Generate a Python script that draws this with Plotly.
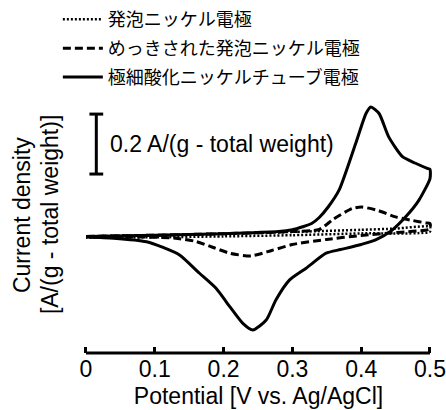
import plotly.graph_objects as go

# ---- data ----
# foam nickel electrode (dotted): anodic then cathodic sweep
foam_x = [0.0, 0.1, 0.2, 0.3, 0.4, 0.45, 0.5, 0.5, 0.4, 0.3, 0.2, 0.1, 0.0]
foam_y = [0.002, 0.006, 0.011, 0.017, 0.024, 0.028, 0.034,
          0.018, 0.012, 0.006, 0.002, -0.001, -0.002]

# plated foam nickel electrode (dashed)
plated_x = [0.0, 0.1, 0.2, 0.3, 0.339, 0.36, 0.387, 0.401, 0.425, 0.45, 0.475, 0.494, 0.5,
            0.5, 0.45, 0.4, 0.35, 0.3, 0.27, 0.24, 0.21, 0.185, 0.16, 0.13, 0.08, 0.0]
plated_y = [0.002, 0.006, 0.011, 0.018, 0.025, 0.06, 0.095, 0.1, 0.088, 0.067, 0.055, 0.047, 0.045,
            0.027, 0.015, 0.005, -0.008, -0.025, -0.045, -0.063, -0.055, -0.035, -0.015, -0.004, 0.0, 0.0]

# ultrafine nickel oxide tube electrode (solid)
tube_x = [0.0, 0.1, 0.2, 0.28, 0.3, 0.315, 0.328, 0.339, 0.352, 0.368, 0.392, 0.407, 0.414,
          0.426, 0.44, 0.46, 0.479, 0.496, 0.5,
          0.5, 0.484, 0.465, 0.445, 0.421, 0.4, 0.37, 0.349, 0.32, 0.296, 0.276, 0.262,
          0.2425, 0.228, 0.209, 0.189, 0.165, 0.136, 0.112, 0.088, 0.04, 0.0]
tube_y = [0.002, 0.006, 0.011, 0.018, 0.024, 0.034, 0.045, 0.065, 0.1, 0.157, 0.312, 0.412, 0.434,
          0.412, 0.334, 0.268, 0.246, 0.229, 0.226,
          0.195, 0.123, 0.068, 0.023, -0.01, -0.025, -0.042, -0.054, -0.104, -0.143, -0.21, -0.277,
          -0.31, -0.288, -0.232, -0.171, -0.121, -0.06, -0.035, -0.016, -0.004, 0.0]

names = ["発泡ニッケル電極", "めっきされた発泡ニッケル電極", "極細酸化ニッケルチューブ電極"]
x_ticks = [0, 0.1, 0.2, 0.3, 0.4, 0.5]
x_tick_text = ["0", "0.1", "0.2", "0.3", "0.4", "0.5"]
scale_bar = [0.21, 0.41]   # 0.2 A/(g - total weight)
scale_bar_x = 0.015

LAT = "Liberation Sans, Arial, sans-serif"
CJK = "Noto Sans CJK JP, sans-serif"
FS = 23

fig = go.Figure()
fig.add_trace(go.Scatter(x=foam_x, y=foam_y, mode="lines", name=names[0], legendgroup="a",
                         line=dict(color="black", width=2.5, dash="2px,2px", shape="spline", smoothing=0.6)))
fig.add_trace(go.Scatter(x=plated_x, y=plated_y, mode="lines", name=names[1], legendgroup="b",
                         line=dict(color="black", width=3, dash="8px,4px", shape="spline", smoothing=0.6)))
fig.add_trace(go.Scatter(x=tube_x, y=tube_y, mode="lines", name=names[2], legendgroup="c",
                         line=dict(color="black", width=3, shape="spline", smoothing=0.6)))

# scale bar
fig.add_shape(type="line", x0=scale_bar_x, x1=scale_bar_x, y0=scale_bar[0], y1=scale_bar[1],
              xref="x", yref="y", line=dict(color="black", width=3))
for yv in scale_bar:
    fig.add_shape(type="line", x0=scale_bar_x - 0.01, x1=scale_bar_x + 0.01, y0=yv, y1=yv,
                  xref="x", yref="y", line=dict(color="black", width=3))
fig.add_annotation(x=scale_bar_x, y=(scale_bar[0] + scale_bar[1]) / 2, xref="x", yref="y",
                   text="0.2 A/(g - total weight)", showarrow=False, xanchor="left", xshift=12,
                   font=dict(family=LAT, size=FS, color="black"))

# x axis line spanning 0..0.5
fig.add_shape(type="line", x0=x_ticks[0], x1=x_ticks[-1], y0=0, y1=0, xref="x", yref="paper",
              line=dict(color="black", width=3))

# y title (two lines)
fig.add_annotation(x=0, y=0.545, xref="paper", yref="paper", text="Current density",
                   textangle=-90, showarrow=False, xshift=-58, xanchor="center", yanchor="middle",
                   font=dict(family=LAT, size=FS, color="black"))
fig.add_annotation(x=0, y=0.545, xref="paper", yref="paper", text="[A/(g - total weight)]",
                   textangle=-90, showarrow=False, xshift=-30, xanchor="center", yanchor="middle",
                   font=dict(family=LAT, size=FS, color="black"))

fig.update_layout(
    width=446, height=410,
    margin=dict(l=80, r=9, t=100, b=57, autoexpand=False),
    plot_bgcolor="white", paper_bgcolor="white",
    showlegend=True,
    legend=dict(x=-0.062, y=1.391, xanchor="left", yanchor="top", traceorder="grouped",
                tracegroupgap=2.5, font=dict(family=CJK, size=18, color="black"),
                bgcolor="rgba(0,0,0,0)", itemwidth=40),
    xaxis=dict(range=[-0.0087, 0.5102], tickvals=x_ticks, ticktext=x_tick_text,
               ticks="inside", ticklen=6, tickwidth=3, tickcolor="black",
               showline=False, showgrid=False, zeroline=False, automargin=False,
               tickfont=dict(family=LAT, size=FS, color="black"),
               title=dict(text="Potential [V vs. Ag/AgCl]", font=dict(family=LAT, size=FS, color="black"),
                          standoff=6)),
    yaxis=dict(range=[-0.387, 0.457], visible=False, showgrid=False, zeroline=False, automargin=False),
)

fig.write_html("out.html", config={"displayModeBar": False},
               post_script="document.body.style.margin='0';")
